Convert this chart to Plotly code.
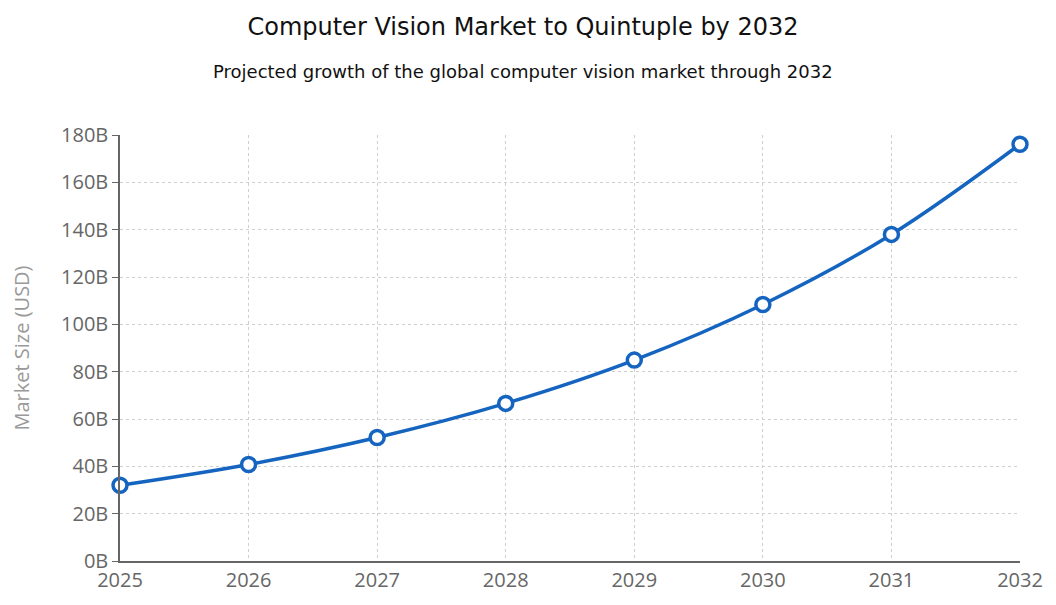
import plotly.graph_objects as go

years = [2025, 2026, 2027, 2028, 2029, 2030, 2031, 2032]
market_size_b = [32.0, 40.8, 52.2, 66.6, 84.9, 108.4, 138.0, 176.1]
y_tick_vals = [0, 20, 40, 60, 80, 100, 120, 140, 160, 180]
y_tick_text = [f"{v}B" for v in y_tick_vals]

fig = go.Figure()
fig.add_trace(go.Scatter(
    x=years, y=market_size_b, mode="lines+markers",
    line=dict(color="#1565C0", width=3.5, shape="spline"),
    marker=dict(size=14, color="white", line=dict(color="#1565C0", width=3.5)),
    cliponaxis=False,
    showlegend=False,
))

fig.update_layout(
    width=1048, height=597,
    paper_bgcolor="white", plot_bgcolor="white",
    margin=dict(l=112, r=36, t=127, b=44),
    title=dict(
        text="Computer Vision Market to Quintuple by 2032",
        xref="container", x=0.4914, xanchor="center",
        yref="container", y=1 - 19 / 597, yanchor="middle",
        font=dict(family="DejaVu Sans", size=24, color="#111"),
    ),
    annotations=[dict(
        text="Projected growth of the global computer vision market through 2032",
        xref="paper", yref="paper", x=0.4478, y=1.0, yshift=64,
        xanchor="center", yanchor="middle", showarrow=False,
        font=dict(family="DejaVu Sans", size=18, color="#111"),
    )],
    font=dict(family="Open Sans", size=16, color="#666"),
)
fig.update_xaxes(
    range=[2025, 2032], tickvals=years, ticktext=[str(y) for y in years],
    showgrid=True, gridcolor="#cfcfcf", griddash="3px,3px", gridwidth=1,
    showline=True, linecolor="#666", linewidth=1.5,
    ticks="", tickfont=dict(size=20, color="#666"), zeroline=False,
)
fig.update_yaxes(
    range=[0, 180], tickvals=y_tick_vals, ticktext=y_tick_text,
    showgrid=True, gridcolor="#cfcfcf", griddash="3px,3px", gridwidth=1,
    showline=True, linecolor="#666", linewidth=1.5,
    ticks="outside", ticklen=6, tickcolor="#666",
    tickfont=dict(size=20, color="#666"), zeroline=False,
    title=dict(text="Market Size (USD)", font=dict(size=20, color="#999"), standoff=27),
)

fig.write_html("out.html")
